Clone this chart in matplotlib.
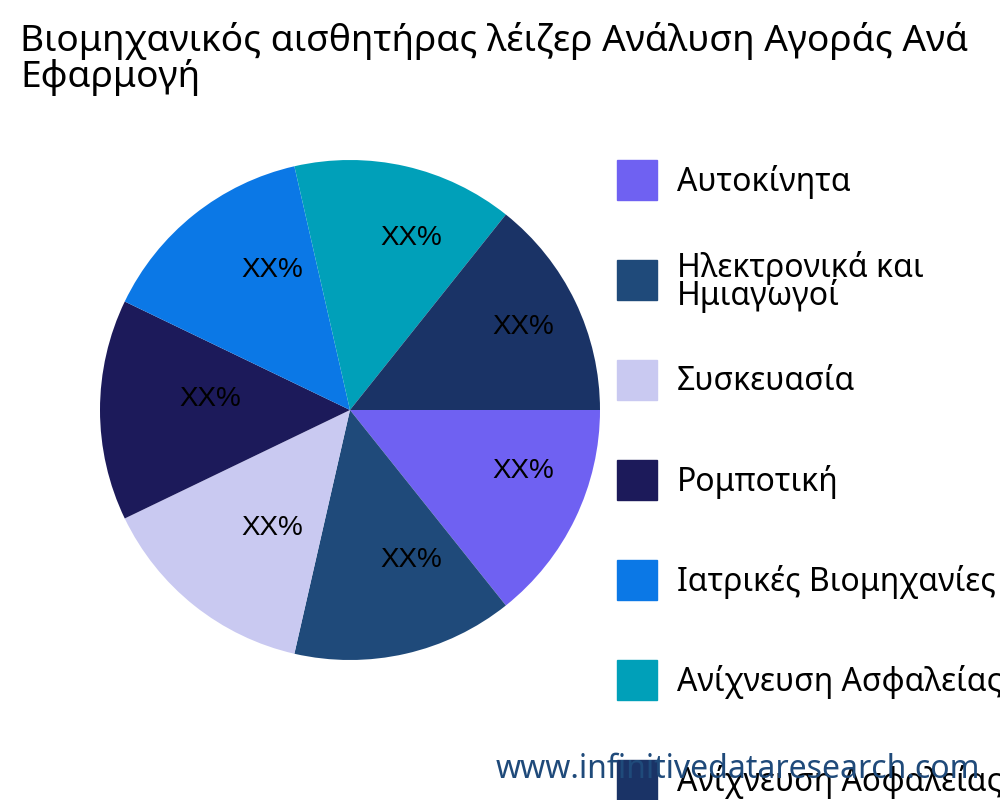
import numpy as np
import matplotlib
matplotlib.use("Agg")
import matplotlib.pyplot as plt
from matplotlib.patches import Rectangle

labels = ["Αυτοκίνητα", "Ηλεκτρονικά και\nΗμιαγωγοί", "Συσκευασία", "Ρομποτική",
          "Ιατρικές Βιομηχανίες", "Ανίχνευση Ασφαλείας", "Ανίχνευση Ασφαλείας"]
values = [1, 1, 1, 1, 1, 1, 1]
colors = ["#6f61f2", "#1f4a7a", "#c9c9f1", "#1c1a5a", "#0b78e6", "#00a0b9", "#1a3366"]

fig = plt.figure(figsize=(10, 8), dpi=100)
ax = fig.add_axes([0.1, 0.175, 0.5, 0.625])
wedges, _, autotexts = ax.pie(values, colors=colors, startangle=0, counterclock=False,
                              labels=None, autopct=lambda p: "XX%", pctdistance=0.66,
                              textprops=dict(family="Liberation Sans", fontsize=20,
                                             color="black"))
# in the original the percentage labels sit around a point slightly right/up of centre
for w, t in zip(wedges, autotexts):
    mid = np.deg2rad((w.theta1 + w.theta2) / 2)
    t.set_position((0.1 + 0.66 * np.cos(mid), 0.044 + 0.66 * np.sin(mid)))
ax.set_xlim(-1, 1)
ax.set_ylim(-1, 1)
ax.set_aspect("equal")

fig.text(0.02, 0.972, "Βιομηχανικός αισθητήρας λέιζερ Ανάλυση Αγοράς Ανά\nΕφαρμογή",
         family="Noto Sans", fontsize=26.7, va="top", ha="left", linespacing=0.95)

ys = [180, 280, 380, 480, 580, 680, 780]
for lab, c, y in zip(labels, colors, ys):
    fig.patches.append(Rectangle((617 / 1000, 1 - (y + 20) / 800), 40 / 1000, 40 / 800,
                                 transform=fig.transFigure, color=c))
    fig.text(677 / 1000, 1 - (y + 2) / 800, lab, family="Noto Sans", fontsize=23,
             va="center", ha="left", linespacing=0.8)

fig.text(0.98, 1 - 770 / 800, "www.infinitivedataresearch.com", family="Noto Sans",
         fontsize=23, color="#1f4a7a", ha="right", va="center")

fig.savefig("out.png", dpi=100)
